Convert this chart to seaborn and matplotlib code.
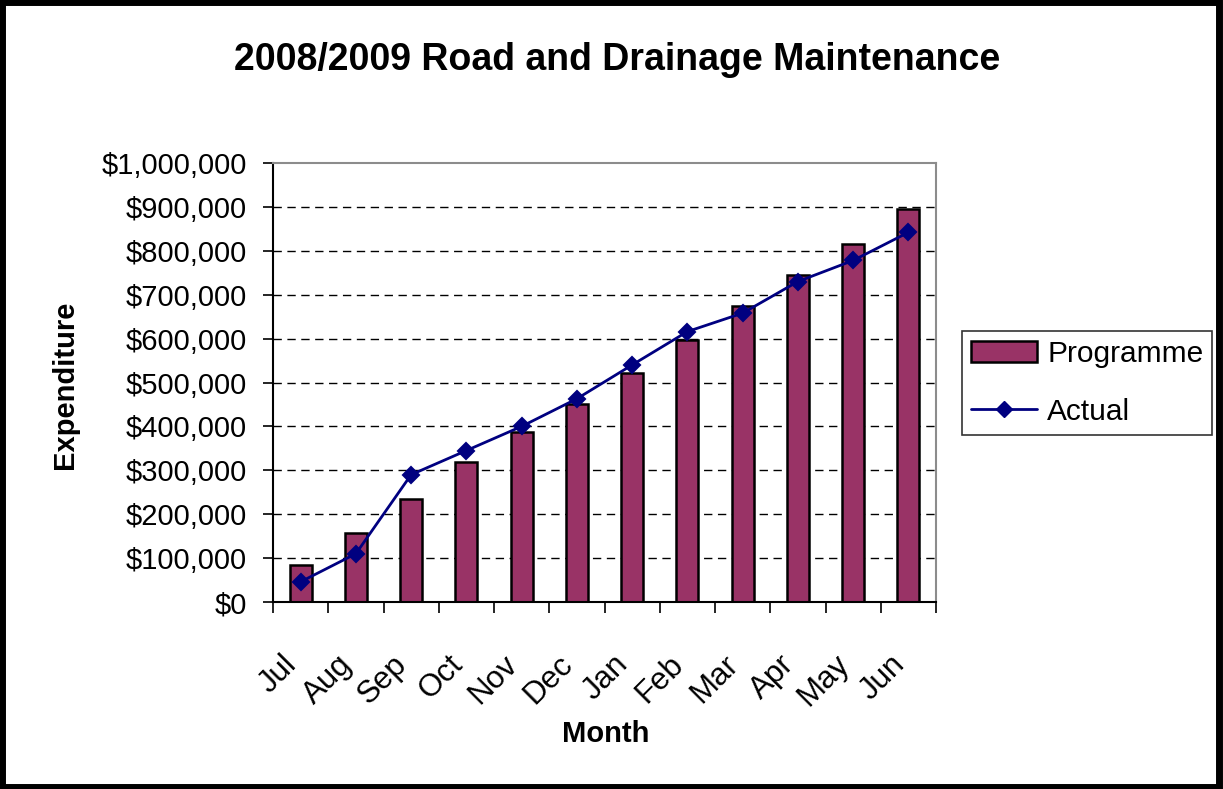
import pandas as pd
import numpy as np
import matplotlib
matplotlib.use("Agg")
import matplotlib.pyplot as plt
import matplotlib.ticker as mticker
import matplotlib.transforms as mtrans
from matplotlib.patches import Rectangle, Patch
from matplotlib.lines import Line2D
import seaborn as sns

months = ["Jul", "Aug", "Sep", "Oct", "Nov", "Dec", "Jan", "Feb", "Mar", "Apr", "May", "Jun"]
programme = [85000, 158000, 235000, 318000, 388000, 452000, 522000, 596000, 674000, 745000, 815000, 896000]
actual = [46000, 110000, 290000, 345000, 400000, 463000, 540000, 616000, 658000, 730000, 778000, 842000]

df = pd.DataFrame({"Month": months, "Programme": programme, "Actual": actual})

sns.set_style("white")
plt.rcParams['font.family'] = ['Liberation Sans', 'DejaVu Sans']
plt.rcParams['text.color'] = 'black'
plt.rcParams['xtick.color'] = 'black'
plt.rcParams['ytick.color'] = 'black'

fig = plt.figure(figsize=(12.23, 7.89), dpi=100)
ax = fig.add_axes([273/1223, 1 - 602/789, (936-273)/1223, (602-163)/789])

sns.barplot(data=df, x="Month", y="Programme", color="#993366", saturation=1,
            width=0.4, edgecolor="black", linewidth=1.8, ax=ax)
sns.pointplot(data=df, x="Month", y="Actual", color="#000080", marker="D",
              markersize=8, linewidth=2, ax=ax)

ax.set_xlim(-0.5, len(months) - 0.5)
ax.set_ylim(0, 1000000)
ax.set_yticks(np.arange(0, 1000001, 100000))
ax.yaxis.set_major_formatter(mticker.FuncFormatter(lambda v, p: "${:,.0f}".format(v)))
for v in range(100000, 1000000, 100000):
    ax.axhline(v, color="black", lw=1.0, ls=(0, (6, 4)), zorder=0.5)

ax.tick_params(axis="y", which="major", direction="out", length=7, width=1.2, left=True,
               labelsize=21, pad=12, color="black", labelcolor="black")
ax.set_xticks(np.arange(len(months)))
ax.set_xticklabels(months, rotation=45, ha="right", va="top", rotation_mode="anchor")
ax.tick_params(axis="x", which="major", length=0, labelsize=22.5, pad=34, labelcolor="black")
ax.set_xticks(np.arange(-0.5, len(months)), minor=True)
ax.tick_params(axis="x", which="minor", direction="out", length=8, width=1.2, bottom=True, color="black")
offset = mtrans.ScaledTranslation(-19/100, 0, fig.dpi_scale_trans)
for lab in ax.get_xticklabels():
    lab.set_transform(lab.get_transform() + offset)

for s in ["left", "bottom"]:
    ax.spines[s].set_color("black")
    ax.spines[s].set_linewidth(1.5)
for s in ["top", "right"]:
    ax.spines[s].set_visible(True)
    ax.spines[s].set_color("#8c8c8c")
    ax.spines[s].set_linewidth(1.5)

ax.set_xlabel("")
ax.set_ylabel("")
fig.text(617/1223, 1 - 60/789, "2008/2009 Road and Drainage Maintenance",
         ha="center", va="center", fontsize=27, fontweight="bold")
fig.text(606/1223, 1 - 734/789, "Month", ha="center", va="center", fontsize=21, fontweight="bold")
fig.text(65/1223, 1 - 385/789, "Expenditure", ha="center", va="center", rotation=90,
         fontsize=21, fontweight="bold")

handles = [Patch(facecolor="#993366", edgecolor="black", linewidth=1.8),
           Line2D([0], [0], color="#000080", lw=2, marker="D", markersize=8)]
leg = fig.legend(handles, ["Programme", "Actual"], loc="upper left",
                 bbox_to_anchor=(962/1223, 1 - 331/789), fontsize=21.5, frameon=True,
                 fancybox=False, edgecolor="black", handlelength=2.2, borderpad=0.3,
                 labelspacing=1.0, handletextpad=0.35, borderaxespad=0)
leg.get_frame().set_linewidth(1.2)

fig.patches.append(Rectangle((0.002, 0.003), 0.995, 0.994, transform=fig.transFigure,
                             fill=False, edgecolor="black", linewidth=5))

fig.savefig("out.png", dpi=100)
